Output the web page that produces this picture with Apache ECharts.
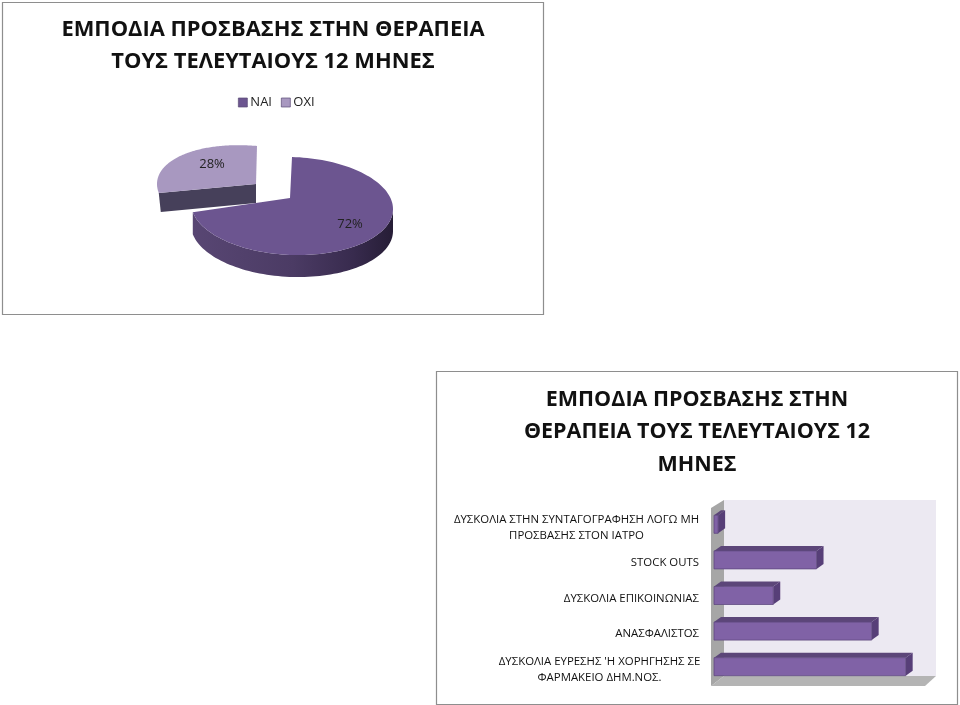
<!DOCTYPE html>
<html><head><meta charset="utf-8">
<style>html,body{margin:0;padding:0;background:#fff}#c{width:960px;height:705px}</style>
<script src="https://cdn.jsdelivr.net/npm/echarts@6/dist/echarts.min.js"></script>
</head><body><div id="c"></div>
<script>
const pieLabels = ['ΝΑΙ','ΟΧΙ'];
const pieValues = [72,28];
const barCategories = ["ΔΥΣΚΟΛΙΑ ΕΥΡΕΣΗΣ 'Η ΧΟΡΗΓΗΣΗΣ ΣΕ\nΦΑΡΜΑΚΕΙΟ ΔΗΜ.ΝΟΣ.","ΑΝΑΣΦΑΛΙΣΤΟΣ","ΔΥΣΚΟΛΙΑ ΕΠΙΚΟΙΝΩΝΙΑΣ","STOCK OUTS","ΔΥΣΚΟΛΙΑ ΣΤΗΝ ΣΥΝΤΑΓΟΓΡΑΦΗΣΗ ΛΟΓΩ ΜΗ\nΠΡΟΣΒΑΣΗΣ ΣΤΟΝ ΙΑΤΡΟ"];
const barValues = [37.2,30.6,11.5,19.9,0.8];
const titlePie = 'ΕΜΠΟΔΙΑ ΠΡΟΣΒΑΣΗΣ ΣΤΗΝ ΘΕΡΑΠΕΙΑ\nΤΟΥΣ ΤΕΛΕΥΤΑΙΟΥΣ 12 ΜΗΝΕΣ';
const titleBar = 'ΕΜΠΟΔΙΑ ΠΡΟΣΒΑΣΗΣ ΣΤΗΝ\nΘΕΡΑΠΕΙΑ ΤΟΥΣ ΤΕΛΕΥΤΑΙΟΥΣ 12\nΜΗΝΕΣ';
const FONT = '"Open Sans","Noto Sans",sans-serif';
const total = pieValues.reduce((a,b)=>a+b,0);

const pieGeom=[
  {cx:292,cy:206,rx:101,ry:49,ax:290,ay:198,dy:22,shear:0.03,top:'#6c5590',label:[350,224]},
  {cx:257,cy:193,rx:100,ry:47,ax:256,ay:184,dy:19,shear:0.09,top:'#a898c0',label:[212,164]}
];
function renderPie(params,api){
  const i=api.value(0), v=api.value(1), g=pieGeom[i];
  let sum=0; for(let k=0;k<i;k++) sum+=pieValues[k];
  const a0=sum/total*2*Math.PI, a1=(sum+v)/total*2*Math.PI;
  const N=120, arc=[];
  for(let k=0;k<=N;k++){
    const a=a0+(a1-a0)*k/N, dx=g.rx*Math.sin(a);
    arc.push([g.cx+dx, g.cy-g.ry*Math.cos(a)+g.shear*dx, a]);
  }
  const children=[];
  if(i===0){
    const lo=arc.filter(p=>p[2]>=Math.PI/2).map(p=>[p[0],p[1]]);
    const side=lo.concat(lo.slice().reverse().map(p=>[p[0],p[1]+g.dy]));
    children.push({type:'polygon',shape:{points:side},style:{fill:new echarts.graphic.LinearGradient(0,0,1,0,[{offset:0,color:'#584673'},{offset:0.5,color:'#4b3b64'},{offset:0.8,color:'#382b4e'},{offset:1,color:'#261d36'}])}});
  } else {
    const e=arc[0];
    children.push({type:'polygon',shape:{points:[[e[0],e[1]],[g.ax,g.ay],[g.ax,g.ay+g.dy],[e[0]+2,e[1]+g.dy]]},style:{fill:'#46405a'}});
  }
  children.push({type:'polygon',shape:{points:[[g.ax,g.ay]].concat(arc.map(p=>[p[0],p[1]]))},style:{fill:g.top}});
  children.push({type:'text',style:{text:Math.round(v/total*100)+'%',x:g.label[0],y:g.label[1],align:'center',verticalAlign:'middle',font:'13px '+FONT,fill:'#222'}});
  return {type:'group',children};
}
function renderBar(params,api){
  const x0=api.coord([0,api.value(1)]), x1=api.coord([api.value(0),api.value(1)]);
  const h=18, dx=7, dy=5, l=x0[0], r=x1[0], t=x0[1]-h/2+0.5, b=t+h;
  return {type:'group',children:[
    {type:'polygon',shape:{points:[[l,t],[l+dx,t-dy],[r+dx,t-dy],[r,t]]},style:{fill:'#5c4679'}},
    {type:'polygon',shape:{points:[[r,t],[r+dx,t-dy],[r+dx,b-dy],[r,b]]},style:{fill:'#573f78'}},
    {type:'rect',shape:{x:l,y:t,width:r-l,height:h},style:{fill:'#8062a6',stroke:'#5f4a80',lineWidth:0.8}}
  ]};
}
function poly(points,fill,z){return {type:'polygon',shape:{points},style:{fill},z:z||0,silent:true};}
const chart=echarts.init(document.getElementById('c'),null,{renderer:'canvas'});
chart.setOption({
  animation:false,
  backgroundColor:'#fff',
  graphic:[
    {type:'rect',shape:{x:2.5,y:2.5,width:541,height:312},style:{fill:'#fff',stroke:'#8e8e8e',lineWidth:1.2},z:-10},
    {type:'rect',shape:{x:436.5,y:371.5,width:521,height:333},style:{fill:'#fff',stroke:'#8e8e8e',lineWidth:1.2},z:-10},
    poly([[724,500],[936,500],[936,676],[724,676]],'#ece9f2',-5),
    poly([[711,508],[724,500],[724,676],[711,686]],'#a6a6a6',-5),
    poly([[711,686],[724,676],[936,676],[925,686]],'#b4b4b4',-5),
    {type:'text',style:{text:titlePie,x:273,y:46,align:'center',verticalAlign:'middle',font:'700 21.9px '+FONT,lineHeight:32,fill:'#111'}},
    {type:'text',style:{text:titleBar,x:697,y:432,align:'center',verticalAlign:'middle',font:'700 21.5px '+FONT,lineHeight:32.5,fill:'#111'}}
  ],
  legend:{left:233,top:91,itemWidth:9,itemHeight:9,itemGap:9,data:pieLabels,itemStyle:{borderColor:'#5a4a75',borderWidth:0.7},textStyle:{fontFamily:FONT,fontSize:13,color:'#222',padding:[0,0,0,-2]},icon:'rect'},
  grid:{left:714,top:506,width:206.1,height:178,containLabel:false},
  xAxis:{type:'value',min:0,max:40,show:false},
  yAxis:{type:'category',data:barCategories,axisLine:{show:false},axisTick:{show:false},
    axisLabel:{margin:15,fontFamily:FONT,fontSize:11.4,color:'#111',lineHeight:16,align:'right',padding:[7,0,0,0],
      formatter:v=>{
        if(v.indexOf('\n')<0) return v;
        const s=v.indexOf('ΣΥΝΤΑΓΟΓΡΑΦΗΣΗ')>=0?'w':'n';
        return v.split('\n').map(t=>'{'+s+'|'+t+'}').join('\n');
      },
      rich:{
        w:{width:245,align:'center',fontFamily:FONT,fontSize:11.4,color:'#111',lineHeight:16},
        n:{width:199,align:'center',fontFamily:FONT,fontSize:11.4,color:'#111',lineHeight:16}
      }}},
  series:[
    {type:'custom',name:'ΝΑΙ',coordinateSystem:'none',renderItem:renderPie,data:[[0,pieValues[0]]],itemStyle:{color:'#6c5590'},silent:true,z:3},
    {type:'custom',name:'ΟΧΙ',coordinateSystem:'none',renderItem:renderPie,data:[[1,pieValues[1]]],itemStyle:{color:'#a898c0'},silent:true,z:2},
    {type:'custom',coordinateSystem:'cartesian2d',renderItem:renderBar,encode:{x:0,y:1},data:barValues.map((v,i)=>[v,i]),silent:true}
  ]
});
</script></body></html>
